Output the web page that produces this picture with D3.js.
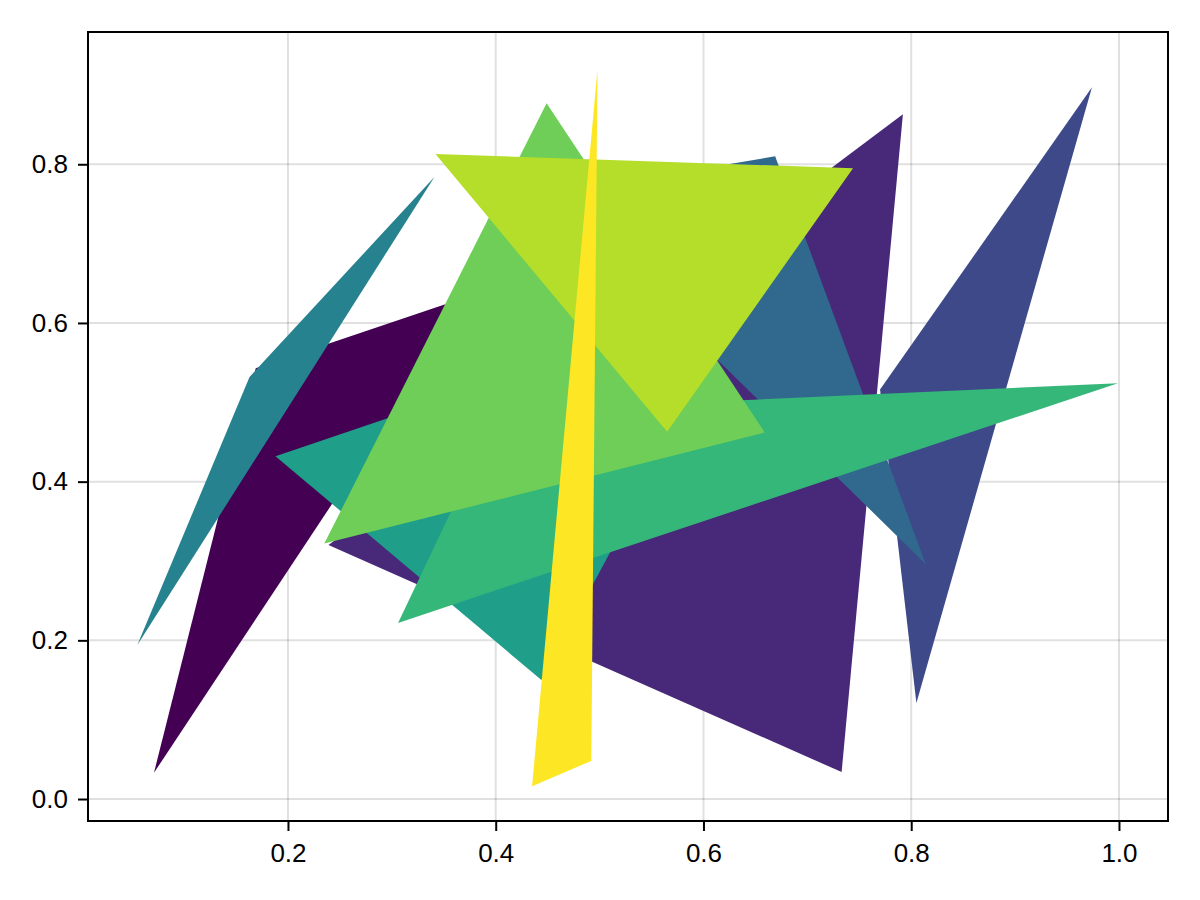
<!DOCTYPE html>
<html>
<head>
<meta charset="utf-8">
<script src="https://cdn.jsdelivr.net/npm/d3@7"></script>
<style>
  body { margin: 0; background: #fff; }
  text { font-family: "Liberation Sans", Arial, sans-serif; }
</style>
</head>
<body>
<div id="chart"></div>
<script>
// triangle vertices, one entry per triangle (drawn in this order)
var triX = [
  [0.071, 0.169, 0.375],
  [0.792, 0.733, 0.239],
  [0.974, 0.805, 0.770],
  [0.669, 0.814, 0.451],
  [0.055, 0.341, 0.163],
  [0.188, 0.444, 0.643],
  [0.306, 0.999, 0.403],
  [0.449, 0.235, 0.659],
  [0.342, 0.744, 0.565],
  [0.498, 0.492, 0.435]
];
var triY = [
  [0.033, 0.543, 0.634],
  [0.863, 0.034, 0.320],
  [0.897, 0.121, 0.516],
  [0.810, 0.296, 0.762],
  [0.194, 0.784, 0.532],
  [0.432, 0.150, 0.634],
  [0.222, 0.524, 0.489],
  [0.877, 0.322, 0.462],
  [0.813, 0.795, 0.463],
  [0.920, 0.048, 0.016]
];
var xTicks = [0.2, 0.4, 0.6, 0.8, 1.0];
var yTicks = [0.0, 0.2, 0.4, 0.6, 0.8];
var xLimits = [0.0075, 1.0472];
var yLimits = [-0.0277, 0.9667];

var svgWidth = 1200;
var svgHeight = 900;
var margin = { top: 32, right: 32, bottom: 79, left: 88 };
var chartWidth = svgWidth - margin.left - margin.right;
var chartHeight = svgHeight - margin.top - margin.bottom;

var svg = d3.select("#chart")
  .append("svg")
  .attr("width", svgWidth)
  .attr("height", svgHeight);

var chartGroup = svg.append("g")
  .attr("transform", `translate(${margin.left},${margin.top})`);

var xScale = d3.scaleLinear().domain(xLimits).range([0, chartWidth]);
var yScale = d3.scaleLinear().domain(yLimits).range([chartHeight, 0]);

var fmt = d3.format(".1f");

// grid
chartGroup.append("g")
  .selectAll("line")
  .data(xTicks)
  .enter().append("line")
  .attr("x1", d => xScale(d)).attr("x2", d => xScale(d))
  .attr("y1", 0).attr("y2", chartHeight)
  .attr("stroke", "#000").attr("stroke-opacity", 0.12).attr("stroke-width", 2);

chartGroup.append("g")
  .selectAll("line")
  .data(yTicks)
  .enter().append("line")
  .attr("y1", d => yScale(d)).attr("y2", d => yScale(d))
  .attr("x1", 0).attr("x2", chartWidth)
  .attr("stroke", "#000").attr("stroke-opacity", 0.12).attr("stroke-width", 2);

// triangles
var line = d3.line()
  .x(d => xScale(d[0]))
  .y(d => yScale(d[1]));

var triangles = triX.map((xs, i) => xs.map((x, j) => [x, triY[i][j]]));
var plotClip = chartGroup.append("clipPath").attr("id", "clip")
  .append("rect").attr("width", chartWidth).attr("height", chartHeight);

chartGroup.append("g")
  .attr("clip-path", "url(#clip)")
  .selectAll("path")
  .data(triangles)
  .enter().append("path")
  .attr("d", d => line(d) + "Z")
  .attr("fill", (d, i) => d3.interpolateViridis(i / (triangles.length - 1)));

// axes
var xAxis = d3.axisBottom(xScale).tickValues(xTicks).tickFormat(fmt)
  .tickSize(10).tickPadding(13);
var yAxis = d3.axisLeft(yScale).tickValues(yTicks).tickFormat(fmt)
  .tickSize(10).tickPadding(10);

var gx = chartGroup.append("g")
  .attr("transform", `translate(0, ${chartHeight})`)
  .call(xAxis);
var gy = chartGroup.append("g").call(yAxis);

[gx, gy].forEach(g => {
  g.select(".domain").remove();
  g.selectAll(".tick line").attr("stroke", "#000").attr("stroke-width", 2);
  g.selectAll(".tick text")
    .attr("fill", "#000")
    .style("font-size", "26px")
    .style("font-family", "'Liberation Sans', Arial, sans-serif");
});

// frame
chartGroup.append("rect")
  .attr("x", 0).attr("y", 0)
  .attr("width", chartWidth).attr("height", chartHeight)
  .attr("fill", "none")
  .attr("stroke", "#000")
  .attr("stroke-width", 2);
</script>
</body>
</html>
